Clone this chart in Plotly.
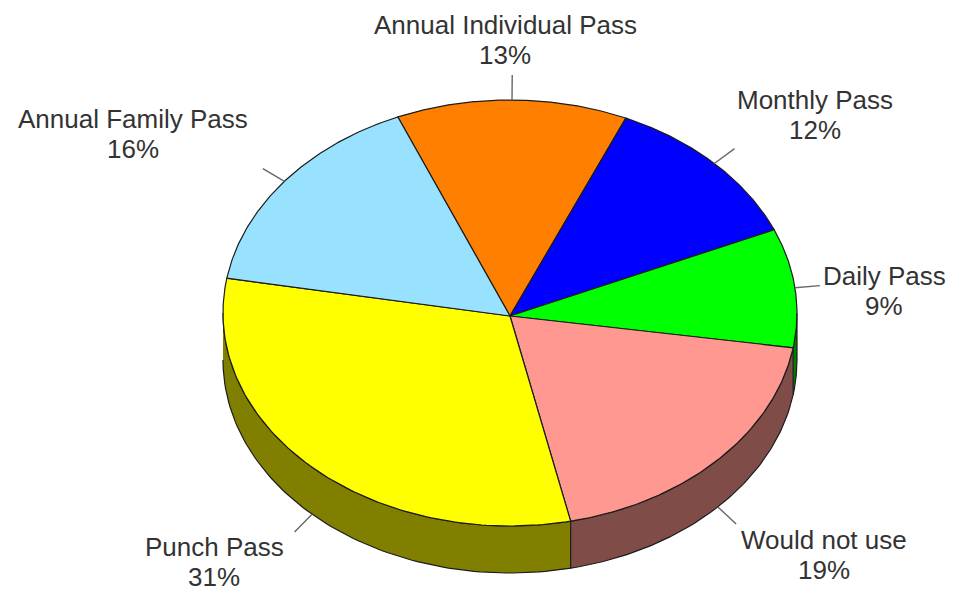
import numpy as np
import plotly.graph_objects as go

# Data (clockwise from the first slice)
categories = ["Annual Individual Pass", "Monthly Pass", "Daily Pass",
              "Would not use", "Punch Pass", "Annual Family Pass"]
shares = [13, 12, 9, 19, 31, 16]
top_colors = ["#FF7F00", "#0000FF", "#00FF00", "#FF9890", "#FFFF00", "#99E2FF"]
side_colors = ["#804000", "#000080", "#007F00", "#7F4C48", "#807F00", "#4C7180"]
label_xy = [(505, 40), (815, 115), (884, 291), (824, 555), (214, 562), (133, 134)]

# Layout of the tilted pie, in figure pixels
CX, CY, RX, RY, DEPTH = 510, 313, 287, 213, 47
HUB_Y = 316
START = 113.0
LEADER = 25
EDGE = "#1c1c1c"


def px(t):
    return CX + RX * np.cos(np.radians(t))


def py(t):
    return CY - RY * np.sin(np.radians(t))


fig = go.Figure()
bounds = START - np.cumsum([0] + shares) * 3.6

# Rim: only the part of each slice on the front half of the ellipse
for name, a, b, color in zip(categories, bounds[:-1], bounds[1:], side_colors):
    lo, hi = b % 360, (b % 360) + (a - b)
    s, e = max(lo, 180), min(hi, 360)
    if e > s:
        t = np.linspace(s, e, 80)
        fig.add_trace(go.Scatter(
            x=np.r_[px(t), px(t[::-1])],
            y=np.r_[py(t), py(t[::-1]) + DEPTH],
            mode="lines", fill="toself", fillcolor=color,
            line=dict(color=EDGE, width=1.2), hoverinfo="skip"))

# Top face
for name, a, b, color in zip(categories, bounds[:-1], bounds[1:], top_colors):
    t = np.linspace(a, b, 120)
    fig.add_trace(go.Scatter(
        x=np.r_[CX, px(t), CX], y=np.r_[HUB_Y, py(t), HUB_Y],
        mode="lines", fill="toself", fillcolor=color,
        line=dict(color=EDGE, width=1.2), name=name, hoverinfo="name"))

# Leader lines and labels
for name, share, a, b, xy in zip(categories, shares, bounds[:-1], bounds[1:], label_xy):
    mid = (a + b) / 2
    x0, y0 = px(mid), py(mid)
    if np.sin(np.radians(mid)) < -0.2:
        y0 += DEPTH
    dx, dy = x0 - CX, y0 - CY
    n = np.hypot(dx, dy)
    fig.add_trace(go.Scatter(
        x=[x0, x0 + dx / n * LEADER], y=[y0, y0 + dy / n * LEADER],
        mode="lines", line=dict(color="#66666e", width=1.4), hoverinfo="skip"))
    for text, off in ((name, -15), (f"{share}%", 15)):
        fig.add_annotation(x=xy[0], y=xy[1] + off, text=text, showarrow=False,
                           xanchor="center", yanchor="middle", align="center",
                           font=dict(family="Liberation Sans", size=26, color="#333333"))

fig.update_layout(
    width=954, height=592, margin=dict(l=0, r=0, t=0, b=0),
    showlegend=False, paper_bgcolor="white", plot_bgcolor="white",
    xaxis=dict(range=[0, 954], visible=False, fixedrange=True),
    yaxis=dict(range=[592, 0], visible=False, fixedrange=True),
)
fig.write_html("out.html", config={"displayModeBar": False},
               post_script="document.body.style.margin='0';document.body.style.overflow='hidden';")
